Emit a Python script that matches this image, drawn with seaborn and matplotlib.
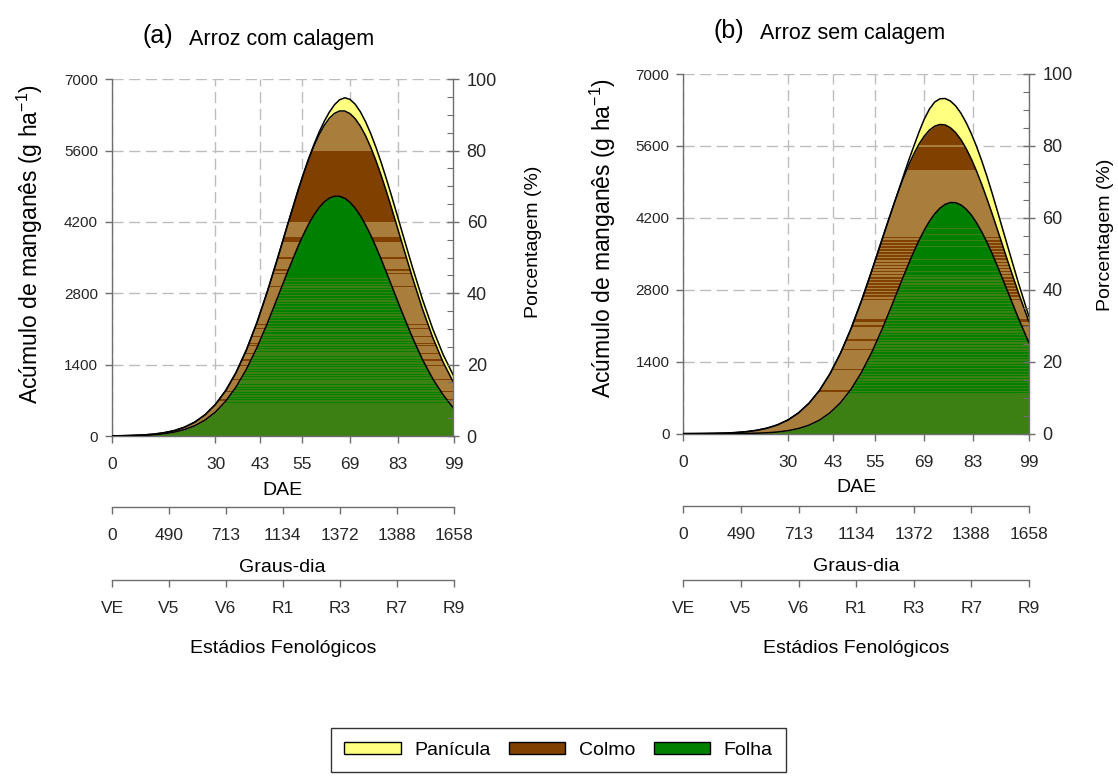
import numpy as np
import matplotlib
matplotlib.use("Agg")
import matplotlib.pyplot as plt
from matplotlib import font_manager
from matplotlib.patches import Patch
from matplotlib.ticker import MultipleLocator
import seaborn as sns

# (a) with liming: days after emergence and Mn accumulation per part (g/ha)
dae_a = [0, 3, 6, 9, 12, 15, 18, 21, 24, 27, 30, 33, 36, 39, 42, 45, 48, 51,
         54, 55.5, 57, 58.5, 60, 61.5, 63, 64.5, 66, 67.5, 69, 70.5, 72,
         73.5, 75, 76.5, 78, 79.5, 81, 84, 87, 90, 93, 96, 99]
folha_a = [2, 4, 7, 13, 24, 43, 75, 125, 201, 313, 471, 686, 965, 1314, 1731,
           2204, 2718, 3237, 3731, 3954, 4157, 4333, 4479, 4592, 4668, 4706,
           4704, 4664, 4585, 4470, 4322, 4144, 3940, 3715, 3473, 3220, 2961,
           2442, 1947, 1501, 1120, 807, 545]
colmo_a = [1, 2, 4, 7, 12, 20, 30, 47, 71, 105, 150, 209, 285, 380, 491, 623,
           768, 930, 1099, 1184, 1268, 1350, 1428, 1500, 1567, 1625, 1675,
           1713, 1741, 1756, 1759, 1749, 1726, 1692, 1646, 1588, 1521, 1362,
           1182, 994, 809, 639, 505]
panicula_a = [0, 0, 0, 0, 0, 0, 0, 0, 0, 0, 0, 0, 0, 0, 0, 0, 0, 0, 5, 10,
              18, 30, 50, 80, 120, 170, 220, 260, 280, 285, 282, 276, 270,
              262, 255, 247, 240, 222, 205, 187, 170, 152, 135]

# (b) without liming
dae_b = [0, 3, 6, 9, 12, 15, 18, 21, 24, 27, 30, 33, 36, 39, 42, 45, 48, 51,
         54, 57, 60, 61.5, 63, 64.5, 66, 67.5, 69, 70.5, 72, 73.5, 75, 76.5,
         78, 79.5, 81, 82.5, 84, 85.5, 87, 88.5, 90, 93, 96, 99]
folha_b = [0, 0, 0, 1, 1, 2, 5, 10, 18, 33, 59, 101, 166, 264, 406, 602, 861,
           1191, 1588, 2045, 2543, 2799, 3054, 3302, 3539, 3761, 3961, 4135,
           4279, 4389, 4463, 4499, 4495, 4452, 4370, 4253, 4102, 3923, 3718,
           3493, 3253, 2748, 2241, 1764]
colmo_b = [1, 2, 4, 6, 11, 20, 34, 56, 90, 140, 209, 304, 427, 578, 759, 962,
           1177, 1391, 1589, 1752, 1864, 1898, 1916, 1918, 1904, 1874, 1830,
           1774, 1706, 1629, 1545, 1455, 1364, 1271, 1179, 1090, 1004, 922,
           845, 775, 709, 593, 496, 414]
panicula_b = [0, 0, 0, 0, 0, 0, 0, 0, 0, 0, 0, 0, 0, 0, 0, 0, 0, 0, 0, 0, 0,
              10, 40, 90, 150, 235, 330, 410, 470, 500, 515, 520, 520, 515,
              505, 495, 480, 460, 435, 400, 360, 280, 190, 100]

# Axis ticks and labels
dae_ticks = [0, 30, 43, 55, 69, 83, 99]
graus_dia = ["0", "490", "713", "1134", "1372", "1388", "1658"]
estadios = ["VE", "V5", "V6", "R1", "R3", "R7", "R9"]
mn_ticks = [0, 1400, 2800, 4200, 5600, 7000]
pct_ticks = [0, 20, 40, 60, 80, 100]

# Colours
PAN = "#FFFF80"
DARK = "#804000"
TAN = "#A97E3D"
GREEN = "#008000"
OLIVE = "#3C7F13"
SPINE = "#6E6E6E"

sns.set_theme(style="white")
plt.rcParams.update({
    "font.family": ["Liberation Sans", "DejaVu Sans"],
    "mathtext.fontset": "custom",
    "mathtext.rm": "Liberation Sans",
    "mathtext.it": "Liberation Sans:italic",
    "mathtext.bf": "Liberation Sans:bold",
    "axes.edgecolor": SPINE,
    "axes.linewidth": 1.0,
    "text.color": "black",
    "axes.labelcolor": "black",
})


def pick_family(names):
    for n in names:
        try:
            font_manager.findfont(font_manager.FontProperties(family=n),
                                  fallback_to_default=False)
            return n
        except ValueError:
            continue
    return None


narrow = pick_family(["Liberation Sans Narrow", "DejaVu Sans Condensed"])

W, H = 1118, 778
fig = plt.figure(figsize=(W / 100, H / 100), dpi=100)


def layer(ax, x, lo, hi, base, bands, z):
    poly = ax.fill_between(x, lo, hi, color=base, lw=0, zorder=z)
    path = poly.get_paths()[0]
    for y0, y1, col in bands:
        r = ax.axhspan(y0, y1, color=col, lw=0, zorder=z + 0.01)
        r.set_clip_path(path, ax.transData)


def draw_panel(rect, dae, folha, colmo, panicula, bands_folha, bands_colmo,
               ylab_xy, pct_xy, sec_locs):
    ax = fig.add_axes(rect)
    f = np.asarray(folha, float)
    c = f + np.asarray(colmo, float)
    p = c + np.asarray(panicula, float)

    layer(ax, dae, 0, f, OLIVE, bands_folha, 1.0)
    layer(ax, dae, f, c, TAN, bands_colmo, 1.2)
    layer(ax, dae, c, p, PAN, [], 1.4)
    for top in (p, c, f):
        sns.lineplot(x=dae, y=top, color="black", lw=1.1, ax=ax, zorder=4)

    ax.set_xlim(0, 99)
    ax.set_ylim(0, 7000)
    ax.set_xticks(dae_ticks)
    ax.set_yticks(mn_ticks)
    ax.grid(True, color="#BDBDBD", ls=(0, (8, 4)), lw=1.0)
    ax.set_axisbelow(True)
    ax.spines["top"].set_visible(False)
    ax.spines["right"].set_visible(False)
    ax.tick_params(axis="x", direction="out", length=5, width=1,
                   color=SPINE, labelsize=12.5, pad=10, bottom=True)
    ax.tick_params(axis="y", direction="out", length=5, width=1,
                   color=SPINE, labelsize=13 if narrow else 11, pad=5,
                   left=True)
    if narrow:
        for t in ax.get_yticklabels():
            t.set_family(narrow)
    ax.set_xlabel("DAE", fontsize=14, labelpad=7)
    ax.set_ylabel("Acúmulo de manganês (g ha$^{-1}$)", fontsize=16.5)
    ax.yaxis.set_label_coords(*ylab_xy)

    tw = ax.twinx()
    tw.set_ylim(0, 100)
    tw.set_yticks(pct_ticks)
    tw.yaxis.set_minor_locator(MultipleLocator(5))
    tw.grid(False)
    for s in ("top", "left", "bottom"):
        tw.spines[s].set_visible(False)
    tw.spines["right"].set_color(SPINE)
    tw.tick_params(axis="y", which="major", direction="inout", length=9,
                   width=1, color=SPINE, labelsize=13, pad=5, right=True)
    tw.tick_params(axis="y", which="minor", direction="in", length=4,
                   width=0.8, color=SPINE, right=True)
    tw.set_ylabel("Porcentagem (%)", fontsize=14)
    tw.yaxis.set_label_coords(*pct_xy)

    pos = np.linspace(0, 99, len(graus_dia))
    for loc, labels, name, lp in ((sec_locs[0], graus_dia, "Graus-dia", 11.5),
                                  (sec_locs[1], estadios,
                                   "Estádios Fenológicos", 17.5)):
        sec = ax.secondary_xaxis(loc)
        sec.set_xticks(pos, labels=labels)
        sec.spines["bottom"].set_color(SPINE)
        sec.tick_params(direction="out", length=5, width=1, color=SPINE,
                        labelsize=12.5, pad=10)
        sec.set_xlabel(name, fontsize=14, labelpad=lp)
    return ax


# horizontal shading bands of each part
def stripes(y0, y1, step, width, col):
    return [(y, y + width, col) for y in np.arange(y0, y1, step)]


bands_colmo_a = [(4200, 5600, DARK), (3800, 3900, DARK), (3470, 3510, DARK),
                 (3245, 3275, DARK), (3175, 3200, DARK), (2915, 2950, DARK),
                 (2250, 2265, DARK), (2180, 2195, DARK), (2095, 2125, DARK),
                 (1935, 1965, DARK), (1805, 1830, DARK), (1775, 1795, DARK),
                 (1700, 1715, DARK), (1605, 1635, DARK), (1475, 1505, DARK),
                 (1375, 1400, DARK), (1250, 1265, DARK), (1100, 1115, DARK),
                 (860, 885, DARK), (695, 720, DARK)]
bands_folha_a = ([(3100, 7000, GREEN)] + stripes(2000, 3100, 55, 34, GREEN)
                 + stripes(650, 2000, 50, 18, GREEN))

bands_colmo_b = ([(5620, 6100, DARK), (5130, 5570, DARK)]
                 + stripes(2600, 3835, 60, 30, DARK)
                 + [(2180, 2230, DARK), (2080, 2110, DARK), (1810, 1835, DARK),
                    (1620, 1645, DARK), (1230, 1255, DARK), (820, 845, DARK)])
bands_folha_b = ([(3120, 7000, GREEN)] + stripes(3150, 4100, 120, 15, OLIVE)
                 + stripes(785, 3120, 55, 28, GREEN))

draw_panel([112 / W, 1 - 436 / H, 341.5 / W, 356.7 / H], dae_a,
           folha_a, colmo_a, panicula_a, bands_folha_a, bands_colmo_a,
           (-0.196, 0.538), (1.21, 0.544), (-0.199, -0.404))
draw_panel([683.3 / W, 1 - 433.7 / H, 345.7 / W, 359.7 / H], dae_b,
           folha_b, colmo_b, panicula_b, bands_folha_b, bands_colmo_b,
           (-0.189, 0.544), (1.196, 0.552), (-0.201, -0.407))

fig.text(158 / W, 1 - 36 / H, "(a)", fontsize=18, ha="center", va="center")
fig.text(189 / W, 1 - 40 / H, "Arroz com calagem", fontsize=15.5,
         ha="left", va="center")
fig.text(729 / W, 1 - 31 / H, "(b)", fontsize=18, ha="center", va="center")
fig.text(760 / W, 1 - 34 / H, "Arroz sem calagem", fontsize=15.5,
         ha="left", va="center")

handles = [Patch(facecolor=PAN, edgecolor="black", label="Panícula"),
           Patch(facecolor=DARK, edgecolor="black", label="Colmo"),
           Patch(facecolor=GREEN, edgecolor="black", label="Folha")]
leg = fig.legend(handles=handles, loc="upper center",
                 bbox_to_anchor=(558.5 / W, 1 - 728 / H), ncol=3,
                 frameon=True, fancybox=False, edgecolor="black",
                 fontsize=14, handlelength=2.9, handleheight=0.6,
                 handletextpad=0.7, columnspacing=0.95, borderpad=0.7,
                 borderaxespad=0)
leg.get_frame().set_linewidth(1.0)

fig.savefig("out.png", dpi=100)
